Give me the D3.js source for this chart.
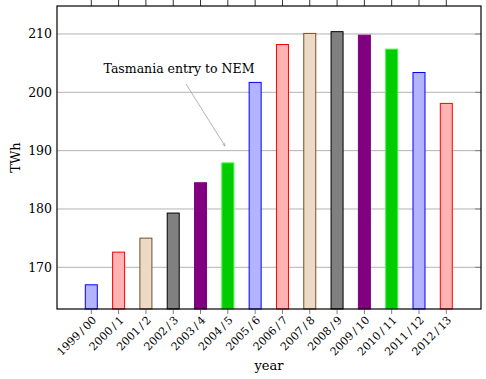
<!DOCTYPE html>
<meta charset="utf-8">
<script src="https://d3js.org/d3.v7.min.js"></script>
<style>
  body { margin: 0; background: #fff; }
  text { font-family: "DejaVu Serif", serif; fill: #000; }
</style>
<body>
<svg id="chart" width="486" height="379"></svg>
<script>
// financial years
const years = ["1999/00", "2000/1", "2001/2", "2002/3", "2003/4", "2004/5", "2005/6",
  "2006/7", "2007/8", "2008/9", "2009/10", "2010/11", "2011/12", "2012/13"];
// energy consumption, TWh
const twh = [167.0, 172.6, 175.0, 179.3, 184.5, 187.9, 201.7,
  208.2, 210.1, 210.4, 209.8, 207.4, 203.4, 198.1];
const yTicks = [170, 180, 190, 200, 210];

// pgfplots style bar cycle
const fills = ["#b3b3ff", "#ffb3b3", "#ecd9c6", "#808080", "#800080", "#00cc00"];
const strokes = ["#0000ff", "#ff0000", "#734d26", "#000000", "#800080", "#33ff33"];

const svg = d3.select("#chart");
const mLeft = 57, mRight = 481, mTop = 6, mBottom = 309;

const x = d3.scalePoint().domain(years).range([91.3, 446.3]);
const y = d3.scaleLinear().domain([162.85, 214.8]).range([mBottom, mTop]);

// grid
svg.append("g").selectAll("line").data(yTicks).join("line")
  .attr("x1", mLeft).attr("x2", mRight)
  .attr("y1", d => y(d)).attr("y2", d => y(d))
  .attr("stroke", "#b3b3b3").attr("stroke-width", 1);

// right side ticks
svg.append("g").selectAll("line").data(yTicks).join("line")
  .attr("x1", mRight - 6).attr("x2", mRight)
  .attr("y1", d => y(d)).attr("y2", d => y(d))
  .attr("stroke", "#808080");

// bars
const bw = 12;
svg.append("g").selectAll("rect").data(twh).join("rect")
  .attr("x", (d, i) => x(years[i]) - bw / 2)
  .attr("y", d => y(d))
  .attr("width", bw)
  .attr("height", d => mBottom - y(d))
  .attr("fill", (d, i) => fills[i % 6])
  .attr("stroke", (d, i) => strokes[i % 6])
  .attr("stroke-width", 1);

// x ticks top and bottom
svg.append("g").selectAll("line").data(years).join("line")
  .attr("x1", d => x(d)).attr("x2", d => x(d))
  .attr("y1", 0).attr("y2", mTop)
  .attr("stroke", "#333");
svg.append("g").selectAll("line").data(years).join("line")
  .attr("x1", d => x(d)).attr("x2", d => x(d))
  .attr("y1", mBottom).attr("y2", mBottom + 5)
  .attr("stroke", "#808080");

// frame
svg.append("rect")
  .attr("x", mLeft).attr("y", mTop)
  .attr("width", mRight - mLeft).attr("height", mBottom - mTop)
  .attr("fill", "none").attr("stroke", "#000").attr("stroke-width", 1.2);

// y tick labels
svg.append("g").selectAll("text").data(yTicks).join("text")
  .attr("x", mLeft - 5).attr("y", d => y(d))
  .attr("dy", "0.35em")
  .attr("text-anchor", "end")
  .style("font-size", "12.5px")
  .text(d => d);

// x tick labels
svg.append("g").selectAll("text").data(years).join("text")
  .attr("transform", d => `translate(${x(d) + 3},${mBottom + 9}) rotate(-45)`)
  .attr("text-anchor", "end")
  .attr("dy", "0.35em")
  .style("font-size", "11px")
  .text(d => d.replace("/", "\u2009/\u2009"));

// axis titles
svg.append("text")
  .attr("x", (mLeft + mRight) / 2).attr("y", 370)
  .attr("text-anchor", "middle")
  .style("font-size", "13px")
  .text("year");
svg.append("text")
  .attr("transform", `translate(20,${(mTop + mBottom) / 2}) rotate(-90)`)
  .attr("text-anchor", "middle")
  .style("font-size", "13px")
  .text("TWh");

// annotation
svg.append("defs").append("marker")
  .attr("id", "arr").attr("viewBox", "0 0 10 10")
  .attr("refX", 9).attr("refY", 5)
  .attr("markerWidth", 6).attr("markerHeight", 6)
  .attr("orient", "auto")
  .append("path").attr("d", "M0,1 L10,5 L0,9")
  .attr("fill", "none").attr("stroke", "#808080");
svg.append("line")
  .attr("x1", 186).attr("y1", 84)
  .attr("x2", 225).attr("y2", 146)
  .attr("stroke", "#808080").attr("stroke-width", 0.6)
  .attr("marker-end", "url(#arr)");
svg.append("text")
  .attr("x", 179).attr("y", 73)
  .attr("text-anchor", "middle")
  .style("font-size", "12.5px")
  .text("Tasmania entry to NEM");
</script>
</body>
